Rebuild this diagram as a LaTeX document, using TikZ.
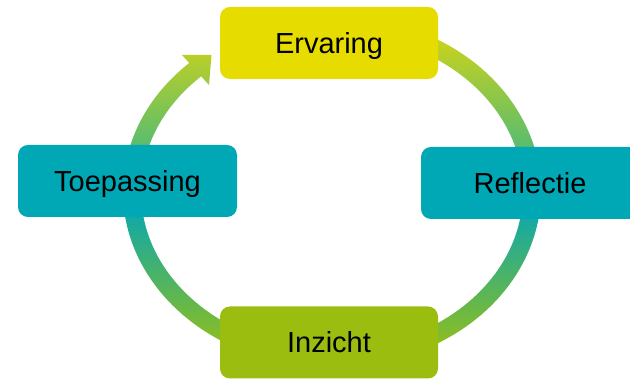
\documentclass[tikz,border=0pt]{standalone}
\usepackage{fontspec}
\setmainfont{Liberation Sans}
\definecolor{cTop}{HTML}{C8D21E}
\definecolor{cG}{HTML}{58BC70}
\definecolor{cT}{HTML}{12A9A6}
\definecolor{cB}{HTML}{8CBE20}
\definecolor{cYel}{HTML}{E6DC00}
\definecolor{cTeal}{HTML}{00A7B5}
\definecolor{cOlive}{HTML}{9ABD0F}
\newcommand\myringpath{({332+209*cos(120)},{187.5+176*sin(120)}) arc[start angle=120, end angle=-227, x radius=209, y radius=176] -- ({332+191*cos(-227)},{187.5+158*sin(-227)}) arc[start angle=-227, end angle=120, x radius=191, y radius=158] -- cycle}
\newcommand\myringcolours{%
  \fill[cTop] (0,339) rectangle (630,379);
  \shade[top color=cTop, bottom color=cG] (0,231) rectangle (630,339);
  \fill[cG] (0,200) rectangle (630,231);
  \fill[cT] (0,164) rectangle (630,200);
  \shade[top color=cT, bottom color=cB] (0,34) rectangle (630,164);
  \fill[cB] (0,0) rectangle (630,34);}
\tikzset{
  stagebox/.style={rectangle, rounded corners=10pt, minimum width=218pt, minimum height=72pt,
    inner sep=0pt, text height=20.5pt, text depth=0pt, font=\fontsize{29}{34}\selectfont, text=black},
}
\begin{document}
\begin{tikzpicture}[x=1pt,y=1pt]
\useasboundingbox (0,0) rectangle (630,379);
\clip (0,0) rectangle (630,379);
% ring
\begin{scope}
  \clip \myringpath;
  \myringcolours
\end{scope}
% arrowhead
\coordinate (tip) at (211.5,324);
\coordinate (barbA) at (182,324);
\coordinate (barbB) at (209,294);
\begin{scope}
  \clip (tip) -- (barbA) -- (barbB) -- cycle;
  \myringcolours
\end{scope}
% boxes
\node[stagebox, fill=cYel] (erv) at (329,336) {Ervaring};
\node[stagebox, fill=cTeal] (ref) at (530,196) {Reflectie};
\node[stagebox, fill=cTeal, minimum width=219pt] (toe) at (127.5,198) {Toepassing};
\node[stagebox, fill=cOlive] (inz) at (329,36.5) {Inzicht};
\end{tikzpicture}
\end{document}
